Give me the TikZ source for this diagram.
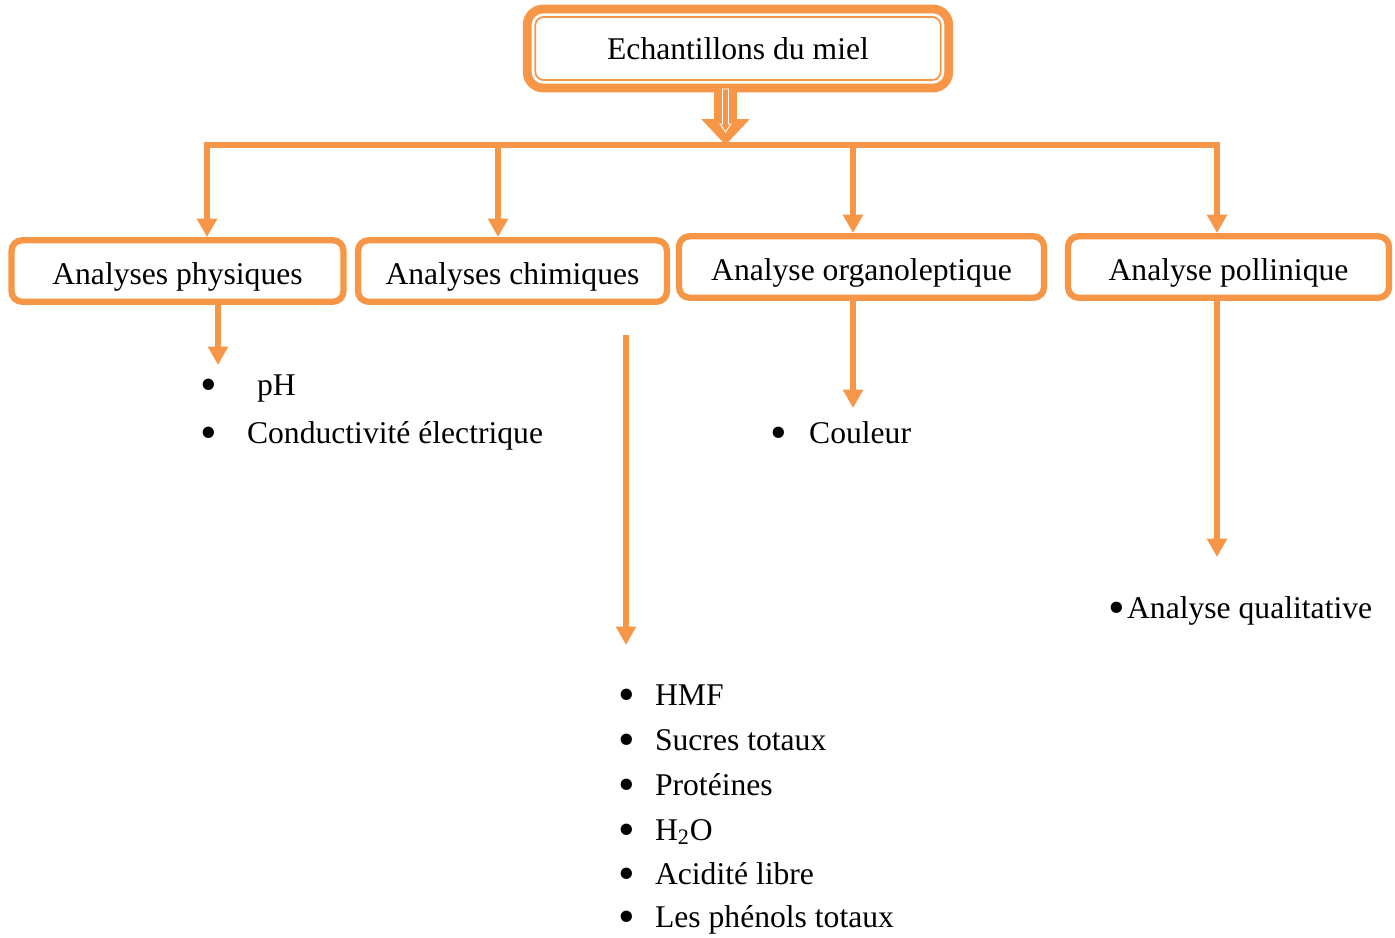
\documentclass[tikz,border=0pt]{standalone}
\usepackage{fontspec}
\setmainfont{Liberation Serif}
\usetikzlibrary{arrows.meta}
\definecolor{orangeclair}{RGB}{247,150,70}
\tikzset{
  >={Triangle[width=11pt,length=10.5pt]},
  boite/.style={draw=orangeclair, line width=3.6pt, rounded corners=6pt, minimum height=1.23cm, inner sep=0pt, text height=15pt, text depth=0pt, font=\fontsize{18}{21}\selectfont},
  fleche/.style={draw=orangeclair, line width=2.9pt, ->},
  item/.style={anchor=base west, inner sep=0pt, font=\fontsize{18}{21}\selectfont},
}
\newcommand{\puce}[1]{\makebox[#1][l]{\smash{\raisebox{-3.2pt}{\scalebox{1.5}{\textbullet}}}}}
\begin{document}
\begin{tikzpicture}[x=0.02cm,y=-0.02cm]
            \useasboundingbox (0,0) rectangle (1395,937);

            \node[boite, line width=5pt, outer sep=0pt, rounded corners=9pt, text height=12.3pt, minimum width=8.43cm, minimum height=1.58cm] (ech) at (738,48.5) {Echantillons du miel};
            \draw [draw=orangeclair, line width=1pt, rounded corners=5pt] ([shift={(4.5pt,-4.5pt)}]ech.north west) rectangle ([shift={(-4.5pt,4.5pt)}]ech.south east);

            \node[boite, minimum width=6.64cm] (phys) at (177.5,271) {Analyses physiques};
            \node[boite, minimum width=6.18cm] (chim) at (512.5,271) {Analyses chimiques};
            \node[boite, minimum width=7.3cm] (orga) at (861.5,267) {Analyse organoleptique};
            \node[boite, minimum width=6.42cm] (poll) at (1228.5,267) {Analyse pollinique};

            \coordinate (bus) at (725.5,145);
            \coordinate (bg) at (207,145);
            \coordinate (d2) at (498,145);
            \coordinate (d3) at (853,145);
            \coordinate (bd) at (1217,145);

            \draw [orangeclair, line width=13pt, -{Triangle[width=26.6pt,length=14.7pt]}] (ech.south -| bus) -- (bus);
            \draw [white, line width=0.5pt] (722.5,89) -- (728.5,89) -- (728.5,124) -- (731,124) -- (725.5,132) -- (720,124) -- (722.5,124) -- cycle;

            \draw [fleche, <->, line join=miter] (bd |- poll.north) -- (bd) -- (bg) -- (bg |- phys.north);
            \draw [fleche] (d2) -- (d2 |- chim.north);
            \draw [fleche] (d3) -- (d3 |- orga.north);

            \coordinate (a1) at (218,365);
            \coordinate (a2s) at (626,335);
            \coordinate (a2) at (626,645);
            \coordinate (a3) at (853,408);
            \coordinate (a4) at (1217,557);
            \draw [fleche] (a1 |- phys.south) -- (a1);
            \draw [fleche] (a2s) -- (a2);
            \draw [fleche] (a3 |- orga.south) -- (a3);
            \draw [fleche] (a4 |- poll.south) -- (a4);

            \node[item] (ph) at (200.5,395) {\puce{32pt}pH};
            \node[item] (cond) at (200.5,443) {\puce{26.3pt}Conductivité électrique};
            \node[item] (coul) at (770.5,443) {\puce{21.8pt}Couleur};
            \node[item] (qual) at (1108.5,618) {\puce{10.4pt}Analyse qualitative};

            \node[item] (hmf) at (618.5,705) {\puce{20.6pt}HMF};
            \node[item] (sucres) at (618.5,750) {\puce{20.6pt}Sucres totaux};
            \node[item] (prot) at (618.5,795) {\puce{20.6pt}Protéines};
            \node[item] (eau) at (618.5,840) {\puce{20.6pt}H\textsubscript{2}O};
            \node[item] (acid) at (618.5,884) {\puce{20.6pt}Acidité libre};
            \node[item] (phen) at (618.5,927) {\puce{20.6pt}Les phénols totaux};

        \end{tikzpicture}
\end{document}
